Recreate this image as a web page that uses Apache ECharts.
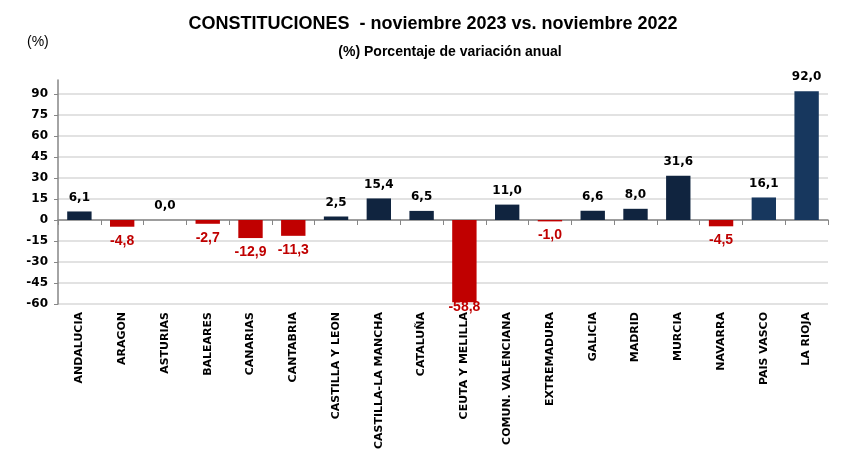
<!DOCTYPE html>
<html><head><meta charset="utf-8">
<script src="https://cdn.jsdelivr.net/npm/echarts@6/dist/echarts.min.js"></script>
<style>html,body{margin:0;padding:0;background:#fff}#c{width:863px;height:463px}</style>
</head><body><div id="c"></div>
<script>
const categories = ["ANDALUCIA","ARAGON","ASTURIAS","BALEARES","CANARIAS","CANTABRIA","CASTILLA Y LEON","CASTILLA-LA MANCHA","CATALUÑA","CEUTA Y MELILLA","COMUN. VALENCIANA","EXTREMADURA","GALICIA","MADRID","MURCIA","NAVARRA","PAIS VASCO","LA RIOJA"];
const values = [6.1,-4.8,0.0,-2.7,-12.9,-11.3,2.5,15.4,6.5,-58.8,11.0,-1.0,6.6,8.0,31.6,-4.5,16.1,92.0];
const titleText = "CONSTITUCIONES  - noviembre 2023 vs. noviembre 2022";
const subtitleText = "(%) Porcentaje de variación anual";
const unitText = "(%)";

const DARK = "#10243F", LIGHT = "#17375E", RED = "#C00000";
const fmt = v => v.toFixed(1).replace(".", ",");
const data = values.map((v, i) => ({
  value: v,
  itemStyle: { color: v < 0 ? RED : (i >= 16 ? LIGHT : DARK) },
  label: v < 0
    ? { position: "bottom", color: RED, fontFamily: "Liberation Sans", fontSize: 14, distance: v < -50 ? -2 : 7 }
    : { position: "top", color: "#000", fontFamily: "DejaVu Sans", fontSize: 12, distance: 8 }
}));

const chart = echarts.init(document.getElementById("c"));
chart.setOption({
  animation: false,
  title: [
    { text: titleText, left: 428, top: 10, textAlign: "center",
      textStyle: { fontFamily: "Liberation Sans", fontSize: 18, fontWeight: "bold", color: "#000" } },
    { text: subtitleText, left: 445, top: 40, textAlign: "center",
      textStyle: { fontFamily: "Liberation Sans", fontSize: 14, fontWeight: "bold", color: "#000" } },
    { text: unitText, left: 22, top: 30,
      textStyle: { fontFamily: "Liberation Sans", fontSize: 14, fontWeight: "normal", color: "#000" } }
  ],
  grid: { left: 58, right: 35, top: 80, bottom: 159 },
  xAxis: [
    { type: "category", data: categories, position: "bottom",
      axisLine: { onZero: true, lineStyle: { color: "#868686", width: 1.5 } },
      axisTick: { show: true, interval: 0, length: 5, lineStyle: { color: "#868686" } },
      axisLabel: { show: false } },
    { type: "category", data: categories, position: "bottom", gridIndex: 0,
      axisLine: { show: false, onZero: false }, axisTick: { show: false },
      axisLabel: { rotate: 90, interval: 0, margin: 8, fontFamily: "DejaVu Sans", fontSize: 11, fontWeight: "bold", color: "#000" } }
  ],
  yAxis: {
    type: "value", min: -60, max: 100, interval: 15,
    axisLine: { show: true, lineStyle: { color: "#868686", width: 1.5 } },
    axisTick: { show: true, length: 4, lineStyle: { color: "#868686" } },
    axisLabel: { showMaxLabel: false, margin: 10, fontFamily: "DejaVu Sans", fontSize: 12, fontWeight: "bold", color: "#000" },
    splitLine: { show: true, showMaxLine: false, lineStyle: { color: "#D9D9D9", width: 1.5 } }
  },
  series: [{
    type: "bar", data: data, barWidth: "57%", xAxisIndex: 0,
    label: { show: true, fontWeight: "bold", formatter: p => fmt(p.value) }
  }]
});
</script></body></html>
